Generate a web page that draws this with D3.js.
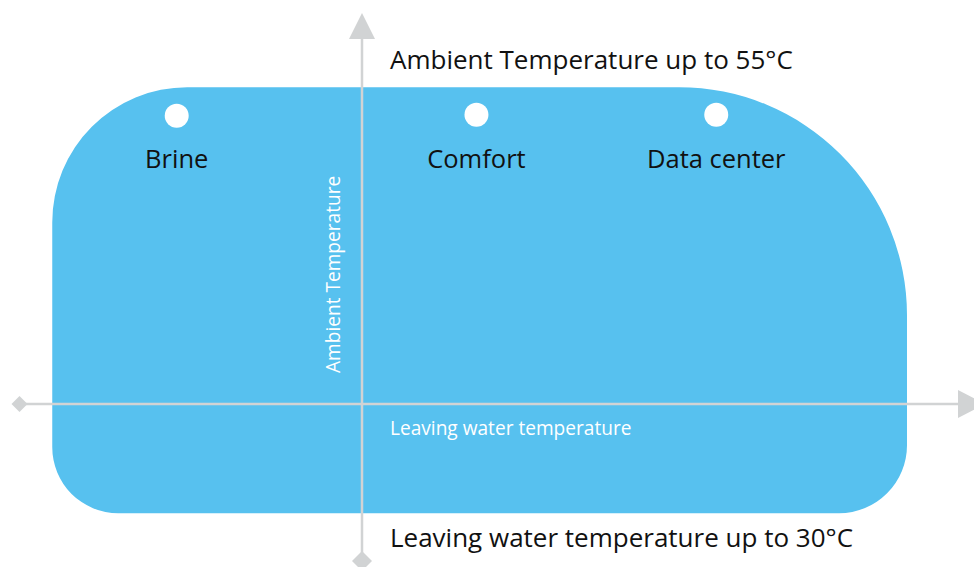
<!DOCTYPE html>
<html>
<head>
<meta charset="utf-8">
<script src="https://cdn.jsdelivr.net/npm/d3@7/dist/d3.min.js"></script>
<style>
html,body{margin:0;padding:0;background:#fff;}
svg{display:block;}
text{font-family:"Open Sans","Noto Sans",sans-serif;}
</style>
</head>
<body>
<svg id="chart" width="974" height="567"></svg>
<script>
// ---- data ----
const categories = ["Brine", "Comfort", "Data center"];
const leavingWaterTemp = [-10.2, 6.3, 19.5];  // °C, position along leaving-water axis (estimated)
const ambientTemp = [50.4, 50.6, 50.6];       // °C, position along ambient axis (estimated)
const axisTitles = ["Leaving water temperature", "Ambient Temperature"];
const limitLabels = ["Ambient Temperature up to 55°C", "Leaving water temperature up to 30°C"];
const envelopeX = [-17.05, 30];               // °C extent of the envelope
const envelopeY = [-19.1, 55.4];              // °C extent of the envelope

// ---- layout ----
const W = 974, H = 567;
const svg = d3.select("#chart");
const x = d3.scaleLinear().domain([0, 30]).range([362, 907]);
const y = d3.scaleLinear().domain([0, 55]).range([404, 89.5]);

const blue = "#57c1ef";
const axisGrey = "#d1d3d4";

// envelope shape with individual corner radii
const x0 = x(envelopeX[0]), x1 = x(envelopeX[1]);
const y0 = y(envelopeY[1]), y1 = y(envelopeY[0]);
const rTL = 135, rTR = 228, rBR = 68, rBL = 66;
const p = d3.path();
p.moveTo(x0 + rTL, y0);
p.lineTo(x1 - rTR, y0);
p.arcTo(x1, y0, x1, y0 + rTR, rTR);
p.lineTo(x1, y1 - rBR);
p.arcTo(x1, y1, x1 - rBR, y1, rBR);
p.lineTo(x0 + rBL, y1);
p.arcTo(x0, y1, x0, y1 - rBL, rBL);
p.lineTo(x0, y0 + rTL);
p.arcTo(x0, y0, x0 + rTL, y0, rTL);
p.closePath();
svg.append("path").attr("d", p.toString()).attr("fill", blue);

// axes
const ox = x(0), oy = y(0);
svg.append("line").attr("x1", 19).attr("x2", 960).attr("y1", oy).attr("y2", oy)
  .attr("stroke", axisGrey).attr("stroke-width", 2.5);
svg.append("line").attr("x1", ox).attr("x2", ox).attr("y1", 36).attr("y2", 560)
  .attr("stroke", axisGrey).attr("stroke-width", 2.5);
// arrowheads
svg.append("path").attr("fill", axisGrey)
  .attr("d", `M${ox},13 L${ox+13},39 L${ox-13},39 Z`);
svg.append("path").attr("fill", axisGrey)
  .attr("d", `M958,${oy-14} L985,${oy} L958,${oy+14} Z`);
// diamonds
svg.append("path").attr("fill", axisGrey)
  .attr("d", `M19.5,${oy-8} L27.5,${oy} L19.5,${oy+8} L11.5,${oy} Z`);
svg.append("path").attr("fill", axisGrey)
  .attr("d", `M${ox},551 L${ox+10},561 L${ox},571 L${ox-10},561 Z`);

// axis titles (white, inside)
svg.append("text").text(axisTitles[0])
  .attr("x", 390).attr("y", 435).attr("fill", "#fff").attr("font-size", 19.1);
svg.append("text").text(axisTitles[1])
  .attr("transform", `translate(340,373) rotate(-90)`)
  .attr("fill", "#fff").attr("font-size", 19.1);

// limit labels
svg.append("text").text(limitLabels[0])
  .attr("x", 390).attr("y", 69).attr("fill", "#111").attr("font-size", 26);
svg.append("text").text(limitLabels[1])
  .attr("x", 390).attr("y", 547).attr("fill", "#111").attr("font-size", 26);

// category points
const data = categories.map((c, i) => ({c, t: leavingWaterTemp[i], a: ambientTemp[i]}));
const g = svg.append("g").selectAll("g").data(data).join("g");
g.append("circle")
  .attr("cx", d => x(d.t)).attr("cy", d => y(d.a)).attr("r", 12).attr("fill", "#fff");
g.append("text").text(d => d.c)
  .attr("x", d => x(d.t)).attr("y", 168)
  .attr("text-anchor", "middle").attr("fill", "#111").attr("font-size", 25.5);
</script>
</body>
</html>
